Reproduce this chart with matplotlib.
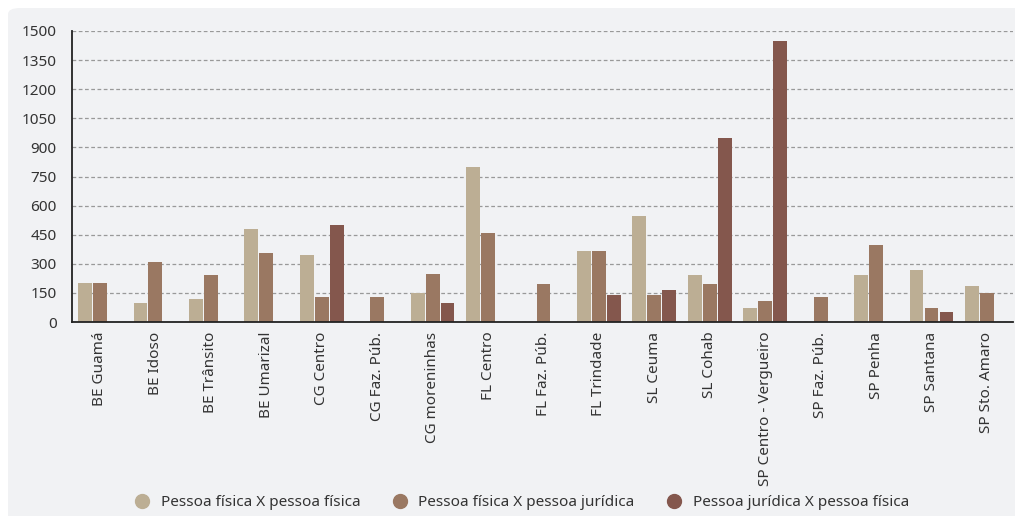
import matplotlib.pyplot as plt
import numpy as np
from matplotlib.patches import FancyBboxPatch
from matplotlib.lines import Line2D

plt.rcParams['font.family'] = ['Noto Sans', 'DejaVu Sans']

categorias = ["BE Guamá", "BE Idoso", "BE Trânsito", "BE Umarizal", "CG Centro",
              "CG Faz. Púb.", "CG moreninhas", "FL Centro", "FL Faz. Púb.",
              "FL Trindade", "SL Ceuma", "SL Cohab", "SP Centro - Vergueiro",
              "SP Faz. Púb.", "SP Penha", "SP Santana", "SP Sto. Amaro"]

# Valores por tipo de conflito (0 = sem barra)
pf_pf = [200, 100, 120, 480, 347, 0, 150, 800, 0, 367, 547, 240, 70, 0, 240, 270, 187]
pf_pj = [200, 310, 240, 357, 130, 130, 250, 460, 197, 367, 140, 197, 110, 130, 398, 70, 150]
pj_pf = [0, 0, 0, 0, 500, 0, 100, 0, 0, 140, 165, 950, 1448, 0, 0, 53, 0]

series = ["Pessoa física X pessoa física",
          "Pessoa física X pessoa jurídica",
          "Pessoa jurídica X pessoa física"]
cores = ["#bcae94", "#9a7862", "#84574d"]
fundo = "#f1f2f4"

fig = plt.figure(figsize=(10.15, 5.16), dpi=100)
fig.patch.set_facecolor("white")

# painel cinza com canto arredondado
painel = FancyBboxPatch((8 / 1015, -0.2), 1.2, 0.2 + 508 / 516,
                        boxstyle="round,pad=0,rounding_size=0.012",
                        transform=fig.transFigure, facecolor=fundo,
                        edgecolor="none", zorder=-10)
fig.patches.append(painel)

ax = fig.add_axes([72 / 1015, 1 - 322 / 516, 941 / 1015, 291 / 516])
ax.set_facecolor("none")
ax.set_zorder(2)

x = np.arange(len(categorias))
passo = 0.27
largura = 0.25
for i, (vals, cor) in enumerate(zip([pf_pf, pf_pj, pj_pf], cores)):
    ax.bar(x + (i - 1) * passo, vals, width=largura, color=cor, zorder=3)

ax.set_xlim(-0.505, 16.47)
ax.set_ylim(0, 1500)
ax.set_yticks(np.arange(0, 1501, 150))
ax.set_xticks(x)
ax.set_xticklabels(categorias, rotation=90, va="top", ha="center")
ax.tick_params(axis="both", length=0, labelsize=11, colors="#333333")
ax.tick_params(axis="y", pad=11)
ax.tick_params(axis="x", pad=7)

ax.yaxis.grid(True, linestyle=(0, (3, 2)), color="#999999", linewidth=0.9, zorder=1)
ax.set_axisbelow(True)
for lado in ["top", "right"]:
    ax.spines[lado].set_visible(False)
for lado in ["left", "bottom"]:
    ax.spines[lado].set_color("#222222")
    ax.spines[lado].set_linewidth(1.3)
    ax.spines[lado].set_zorder(4)

marcadores = [Line2D([0], [0], marker="o", linestyle="none", markersize=10,
                     markerfacecolor=c, markeredgecolor=c) for c in cores]
fig.legend(marcadores, series, loc="center", bbox_to_anchor=(518 / 1015, 1 - 503 / 516),
           ncol=3, frameon=False, fontsize=11, handletextpad=0.2, columnspacing=1.6,
           labelcolor="#333333")

fig.savefig("out.png", dpi=100, facecolor=fig.get_facecolor())
